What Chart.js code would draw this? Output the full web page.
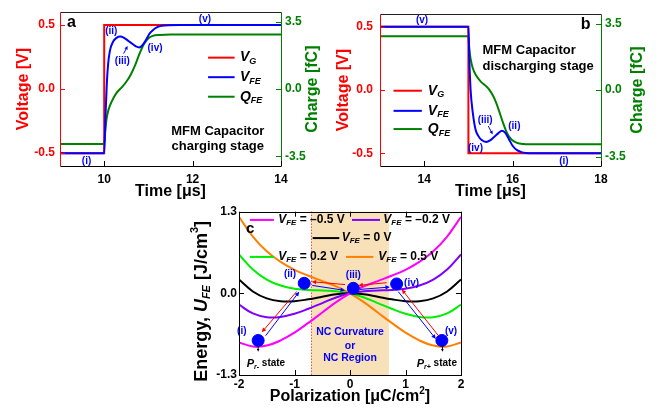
<!DOCTYPE html>
<html>
<head>
<meta charset="utf-8">
<script src="https://cdn.jsdelivr.net/npm/chart.js@4.4.1/dist/chart.umd.min.js"></script>
<style>
  body { margin: 0; background: #fff; width: 665px; height: 412px; position: relative; overflow: hidden; }
  canvas { position: absolute; }
</style>
</head>
<body>
<canvas id="chartA" width="335" height="200" style="left:0;top:0"></canvas>
<canvas id="chartB" width="335" height="200" style="left:330px;top:0"></canvas>
<canvas id="chartC" width="330" height="217" style="left:150px;top:195px"></canvas>
<script>
// ---- panel a : charging stage (time in us, V in volts, Q in fC)
const tA_G = [9, 10, 10, 14];
const vA_G = [-0.5, -0.5, 0.5, 0.5];
const tA_FE = [9, 10, 10.03, 10.06, 10.09, 10.13, 10.2, 10.28, 10.36, 10.45, 10.55, 10.65, 10.72, 10.79, 10.86, 10.94, 11.02, 11.1, 11.2, 11.3, 11.45, 11.7, 14];
const vA_FE = [-0.5, -0.5, -0.2, 0.05, 0.2, 0.3, 0.37, 0.4, 0.41, 0.4, 0.375, 0.35, 0.333, 0.325, 0.34, 0.38, 0.43, 0.46, 0.483, 0.494, 0.499, 0.5, 0.5];
const tA_Q = [9, 10, 10.02, 10.05, 10.1, 10.18, 10.28, 10.4, 10.5, 10.6, 10.7, 10.8, 10.9, 11.0, 11.1, 11.25, 11.5, 14];
const qA_Q = [-2.86, -2.86, -2.3, -1.6, -1.05, -0.6, -0.2, 0.1, 0.38, 0.75, 1.25, 1.85, 2.35, 2.65, 2.77, 2.82, 2.84, 2.84];

// ---- panel b : discharging stage
const tB_G = [13, 15, 15, 18];
const vB_G = [0.5, 0.5, -0.5, -0.5];
const tB_FE = [13, 15, 15.02, 15.05, 15.1, 15.16, 15.22, 15.3, 15.4, 15.5, 15.6, 15.68, 15.76, 15.84, 15.92, 16.0, 16.1, 16.2, 16.3, 16.45, 18];
const vB_FE = [0.5, 0.5, 0.25, 0.0, -0.18, -0.31, -0.36, -0.395, -0.41, -0.395, -0.365, -0.34, -0.322, -0.34, -0.39, -0.44, -0.475, -0.49, -0.497, -0.5, -0.5];
const tB_Q = [13, 15, 15.02, 15.05, 15.1, 15.18, 15.28, 15.38, 15.48, 15.58, 15.68, 15.78, 15.88, 15.98, 16.1, 16.25, 16.5, 18];
const qB_Q = [2.84, 2.84, 2.2, 1.65, 1.15, 0.75, 0.45, 0.25, 0.0, -0.4, -1.0, -1.7, -2.3, -2.62, -2.78, -2.84, -2.86, -2.86];

const voltTicks = [-0.5, 0, 0.5];
const chargeTicks = [-3.5, 0, 3.5];
const timeTicksA = [10, 12, 14];
const timeTicksB = [14, 16, 18];
const stages = ['(i)', '(ii)', '(iii)', '(iv)', '(v)'];

// ---- panel c : energy landscape, P in uC/cm2, U in J/cm3
const P = [-2, -1.75, -1.5, -1.25, -1, -0.75, -0.5, -0.25, 0, 0.25, 0.5, 0.75, 1, 1.25, 1.5, 1.75, 2];
const U_m05 = [-0.78, -0.845, -0.83, -0.75, -0.625, -0.47, -0.305, -0.14, 0, 0.11, 0.195, 0.28, 0.375, 0.5, 0.67, 0.905, 1.22];
const U_m02 = [-0.18, -0.32, -0.38, -0.375, -0.325, -0.245, -0.155, -0.065, 0, 0.035, 0.045, 0.055, 0.075, 0.125, 0.22, 0.38, 0.62];
const U_0 = [0.22, 0.03, -0.08, -0.125, -0.125, -0.095, -0.055, -0.015, 0, -0.015, -0.055, -0.095, -0.125, -0.125, -0.08, 0.03, 0.22];
const U_p02 = [0.62, 0.38, 0.22, 0.125, 0.075, 0.055, 0.045, 0.035, 0, -0.065, -0.155, -0.245, -0.325, -0.375, -0.38, -0.32, -0.18];
const U_p05 = [1.22, 0.905, 0.67, 0.5, 0.375, 0.28, 0.195, 0.11, 0, -0.14, -0.305, -0.47, -0.625, -0.75, -0.83, -0.845, -0.78];
const vfeLabels = ['\u20130.5', '\u20130.2', '0', '0.2', '0.5'];
const ballP = [-1.655, -0.825, 0.06, 0.84, 1.655];
const ballU = [-0.75, 0.16, 0.08, 0.15, -0.75];
const energyTicks = [-1.3, 0, 1.3];
const polTicks = [-2, -1, 0, 1, 2];

const FONT = "'Liberation Sans', Arial, Helvetica, sans-serif";
const RED = '#ff0000', BLUE = '#0000ff', GREEN = '#008000';

const zip = (xs, ys) => xs.map((x, i) => ({ x: x, y: ys[i] }));
const fnt = (size, italic) => (italic ? 'italic ' : '') + 'bold ' + size + 'px ' + FONT;
const crisp = v => Math.round(v) + 0.5;

// draw a run of text pieces: [text, size, italic, dy]
function rich(ctx, x, y, parts, align) {
    let w = 0;
    const ws = parts.map(p => { ctx.font = fnt(p[1], p[2]); const m = ctx.measureText(p[0]).width; w += m; return m; });
    let cx = align === 'center' ? x - w / 2 : (align === 'right' ? x - w : x);
    ctx.textAlign = 'left';
    parts.forEach((p, i) => {
        ctx.font = fnt(p[1], p[2]);
        ctx.fillText(p[0], cx, y + (p[3] || 0));
        cx += ws[i];
    });
}

function vRich(ctx, x, y, parts, color) {
    ctx.save();
    ctx.translate(x, y);
    ctx.rotate(-Math.PI / 2);
    ctx.fillStyle = color;
    ctx.textBaseline = 'middle';
    rich(ctx, 0, 0, parts, 'center');
    ctx.restore();
}

function seg(ctx, x1, y1, x2, y2, color, w) {
    ctx.strokeStyle = color;
    ctx.lineWidth = w || 1;
    ctx.beginPath();
    ctx.moveTo(x1, y1);
    ctx.lineTo(x2, y2);
    ctx.stroke();
}

function arrow(ctx, x1, y1, x2, y2, color, head) {
    const a = Math.atan2(y2 - y1, x2 - x1);
    seg(ctx, x1, y1, x2 - Math.cos(a) * head * 0.7, y2 - Math.sin(a) * head * 0.7, color, 1);
    ctx.fillStyle = color;
    ctx.beginPath();
    ctx.moveTo(x2, y2);
    ctx.lineTo(x2 - head * Math.cos(a - 0.45), y2 - head * Math.sin(a - 0.45));
    ctx.lineTo(x2 - head * Math.cos(a + 0.45), y2 - head * Math.sin(a + 0.45));
    ctx.closePath();
    ctx.fill();
}

// inward tick marks
function ticksIn(ctx, scale, side, ca, color) {
    ctx.strokeStyle = color;
    ctx.lineWidth = 1;
    scale.ticks.forEach((t, i) => {
        const p = crisp(scale.getPixelForTick(i));
        ctx.beginPath();
        if (side === 'bottom') { ctx.moveTo(p, ca.bottom); ctx.lineTo(p, ca.bottom - 5); }
        if (side === 'top') { ctx.moveTo(p, ca.top); ctx.lineTo(p, ca.top + 5); }
        if (side === 'left') { ctx.moveTo(ca.left, p); ctx.lineTo(ca.left + 5, p); }
        if (side === 'right') { ctx.moveTo(ca.right, p); ctx.lineTo(ca.right - 5, p); }
        ctx.stroke();
    });
}

function timeChart(id, d) {
    const deco = {
        id: 'deco',
        afterDraw(chart) {
            const { ctx, chartArea: ca, scales } = chart;
            const X = v => scales.x.getPixelForValue(v);
            const Y = v => scales.y.getPixelForValue(v);
            const L = crisp(ca.left), R = crisp(ca.right), T = crisp(ca.top), B = crisp(ca.bottom);
            ctx.save();
            seg(ctx, L, T, R, T, '#222');
            seg(ctx, L, B, R, B, '#000');
            seg(ctx, L, T, L, B, RED);
            seg(ctx, R, T, R, B, GREEN);
            ticksIn(ctx, scales.x, 'bottom', ca, '#000');
            ticksIn(ctx, scales.y, 'left', ca, RED);
            ticksIn(ctx, scales.y2, 'right', ca, GREEN);

            const midY = (ca.top + ca.bottom) / 2;
            vRich(ctx, ca.left + d.titleL, midY, [['Voltage [V]', 16]], RED);
            vRich(ctx, ca.right + d.titleR, midY, [['Charge [fC]', 16]], GREEN);

            // panel letter
            ctx.fillStyle = '#000';
            ctx.textBaseline = 'middle';
            ctx.textAlign = 'center';
            ctx.font = fnt(16);
            ctx.fillText(d.letter, X(d.letterPos[0]), Y(d.letterPos[1]));

            // stage labels
            ctx.fillStyle = BLUE;
            ctx.font = fnt(10);
            d.lblT.forEach((t, i) => ctx.fillText(stages[i], X(t), Y(d.lblV[i])));
            arrow(ctx, X(d.arrow[0]), Y(d.arrow[1]), X(d.arrow[2]), Y(d.arrow[3]), BLUE, 4);

            // description
            ctx.fillStyle = '#000';
            ctx.font = fnt(13);
            ctx.textAlign = d.noteAlign;
            ctx.fillText('MFM Capacitor', X(d.noteT), Y(d.noteV[0]));
            ctx.fillText(d.noteText, X(d.noteT), Y(d.noteV[1]));

            // legend
            const items = [[RED, 'V', 'G'], [BLUE, 'V', 'FE'], [GREEN, 'Q', 'FE']];
            items.forEach((it, i) => {
                const yy = Y(d.legV[i]);
                seg(ctx, X(d.legT[0]), yy, X(d.legT[1]), yy, it[0], 2);
                ctx.fillStyle = '#000';
                rich(ctx, X(d.legT[2]), yy, [[it[1], 14, true], [it[2], 9, true, 4]], 'left');
            });
            ctx.restore();
        }
    };

    return new Chart(document.getElementById(id), {
        type: 'line',
        data: {
            datasets: [
                { data: zip(d.tFE, d.vFE), borderColor: BLUE, yAxisID: 'y', cubicInterpolationMode: 'monotone', order: 0 },
                { data: zip(d.tG, d.vG), borderColor: RED, yAxisID: 'y', tension: 0, order: 1 },
                { data: zip(d.tQ, d.qQ), borderColor: GREEN, yAxisID: 'y2', cubicInterpolationMode: 'monotone', order: 2 }
            ]
        },
        options: {
            responsive: false,
            animation: false,
            layout: { padding: { top: 5, left: 0, right: 0, bottom: 0 } },
            elements: { point: { radius: 0 }, line: { borderWidth: 2 } },
            plugins: { legend: { display: false }, tooltip: { enabled: false } },
            scales: {
                x: {
                    type: 'linear', min: d.xMin, max: d.xMax,
                    afterBuildTicks: s => { s.ticks = d.xTicks.map(v => ({ value: v })); },
                    afterFit: s => { s.height = 34; },
                    grid: { drawOnChartArea: false, drawTicks: false },
                    border: { display: false },
                    ticks: { color: '#000', font: { size: 12, weight: 'bold' }, padding: 6, maxRotation: 0, autoSkip: false, callback: v => String(v) },
                    title: { display: true, text: 'Time [\u03bcs]', color: '#000', font: { size: 16, weight: 'bold', lineHeight: 1 }, padding: 0 }
                },
                y: {
                    position: 'left', min: -0.6, max: 0.6,
                    afterBuildTicks: s => { s.ticks = voltTicks.map(v => ({ value: v })); },
                    afterFit: s => { s.width = d.leftW; },
                    grid: { drawOnChartArea: false, drawTicks: false },
                    border: { display: false },
                    ticks: { color: RED, font: { size: 12, weight: 'bold' }, padding: d.leftPad, callback: v => v.toFixed(1) }
                },
                y2: {
                    position: 'right', min: -4, max: 4,
                    afterBuildTicks: s => { s.ticks = chargeTicks.map(v => ({ value: v })); },
                    afterFit: s => { s.width = d.rightW; },
                    grid: { drawOnChartArea: false, drawTicks: false },
                    border: { display: false },
                    ticks: { color: GREEN, font: { size: 12, weight: 'bold' }, padding: 4, callback: v => v.toFixed(1) }
                }
            }
        },
        plugins: [deco]
    });
}

Chart.defaults.font.family = FONT;
Chart.defaults.font.weight = 'bold';

timeChart('chartA', {
    tG: tA_G, vG: vA_G, tFE: tA_FE, vFE: vA_FE, tQ: tA_Q, qQ: qA_Q,
    xMin: 9, xMax: 14, xTicks: timeTicksA,
    leftW: 60, rightW: 54, leftPad: 5, titleL: -36, titleR: 31.5,
    letter: 'a', letterPos: [9.26, 0.516],
    lblT: [9.60, 10.16, 10.41, 11.15, 12.28], lblV: [-0.563, 0.454, 0.22, 0.317, 0.548],
    arrow: [10.44, 0.277, 10.53, 0.337],
    noteText: 'charging stage', noteAlign: 'center', noteT: 12.57, noteV: [-0.327, -0.449],
    legT: [12.35, 12.95, 13.07], legV: [0.2455, 0.093, -0.0595]
});

timeChart('chartB', {
    tG: tB_G, vG: vB_G, tFE: tB_FE, vFE: vB_FE, tQ: tB_Q, qQ: qB_Q,
    xMin: 13, xMax: 18, xTicks: timeTicksB,
    leftW: 50, rightW: 64, leftPad: 7, titleL: -36, titleR: 36.6,
    letter: 'b', letterPos: [17.65, 0.516],
    lblT: [17.16, 16.04, 15.38, 15.16, 13.95], lblV: [-0.561, -0.288, -0.238, -0.457, 0.553],
    arrow: [15.45, -0.284, 15.55, -0.351],
    noteText: 'discharging stage', noteAlign: 'left', noteT: 15.32, noteV: [0.3125, 0.188],
    legT: [13.306, 13.947, 14.083], legV: [-0.005, -0.164, -0.308]
});

// ---- panel c
const curveColors = ['#ff00ff', '#8000ff', '#000000', '#00ee00', '#ff8000'];
const curves = [U_m05, U_m02, U_0, U_p02, U_p05];
const redArrows = [[-0.96, 0.03, -1.59, -0.62], [-0.09, 0.14, -0.69, 0.185], [0.66, 0.17, 0.15, 0.126], [1.594, -0.675, 0.933, 0.063]];
const blueArrows = [[-1.52, -0.675, -0.915, 0.027], [-0.68, 0.126, -0.09, 0.047], [0.18, 0.063, 0.72, 0.10], [0.87, 0.027, 1.547, -0.727]];
const stageP = [-1.95, -1.08, 0.06, 1.11, 1.82];
const stageU = [-0.605, 0.30, 0.29, 0.163, -0.605];
// legend rows: [lineStart, lineEnd, textStart, U]
const legC = [[-1.804, -1.371, -1.294, 1.169], [0.036, 0.541, 0.601, 1.169], [-0.673, -0.193, -0.15, 0.88], [-1.804, -1.371, -1.294, 0.58], [-0.072, 0.42, 0.511, 0.58]];

const decoC = {
    id: 'decoC',
    beforeDatasetsDraw(chart) {
        const { ctx, chartArea: ca, scales: { x } } = chart;
        const x1 = x.getPixelForValue(-0.7), x2 = x.getPixelForValue(0.7);
        ctx.save();
        ctx.fillStyle = '#f8e0b8';
        ctx.fillRect(x1, ca.top, x2 - x1, ca.bottom - ca.top);
        ctx.setLineDash([1, 2]);
        seg(ctx, crisp(x1), ca.top, crisp(x1), ca.bottom, RED);
        ctx.restore();
    },
    afterDatasetsDraw(chart) {
        const { ctx, scales: { x, y } } = chart;
        const X = v => x.getPixelForValue(v), Y = v => y.getPixelForValue(v);
        ctx.save();
        redArrows.forEach(a => arrow(ctx, X(a[0]), Y(a[1]), X(a[2]), Y(a[3]), RED, 5));
        blueArrows.forEach(a => arrow(ctx, X(a[0]), Y(a[1]), X(a[2]), Y(a[3]), BLUE, 5));
        arrow(ctx, X(-1.655), Y(-0.84), X(-1.655), Y(-0.93), '#000', 3);
        arrow(ctx, X(1.665), Y(-0.84), X(1.665), Y(-0.93), '#000', 3);

        ctx.textBaseline = 'middle';
        ctx.textAlign = 'center';
        ctx.fillStyle = BLUE;
        ctx.font = fnt(10);
        stageP.forEach((p, i) => ctx.fillText(stages[i], X(p), Y(stageU[i])));
        ctx.font = fnt(10.5);
        ctx.fillText('NC Curvature', X(0), Y(-0.62));
        ctx.fillText('or', X(0), Y(-0.833));
        ctx.fillText('NC Region', X(0), Y(-1.03));

        ctx.fillStyle = '#000';
        rich(ctx, X(-1.515), Y(-1.12), [['P', 11, true], ['r-', 7, true, 3], [' state', 10]], 'center');
        rich(ctx, X(1.564), Y(-1.12), [['P', 11, true], ['r+', 7, true, 3], [' state', 10]], 'center');

        legC.forEach((l, i) => {
            const yy = Y(l[3]);
            seg(ctx, X(l[0]), yy, X(l[1]), yy, curveColors[i], 2);
            ctx.fillStyle = '#000';
            rich(ctx, X(l[2]), yy, [['V', 12, true], ['FE', 8, true, 3], [' = ' + vfeLabels[i] + ' V', 12]], 'left');
        });
        ctx.textAlign = 'center';
        ctx.font = fnt(15);
        ctx.fillText('c', X(-1.8), Y(1.03));
        ctx.restore();
    },
    afterDraw(chart) {
        const { ctx, chartArea: ca, scales: { x, y } } = chart;
        const L = crisp(ca.left), R = crisp(ca.right), T = crisp(ca.top), B = crisp(ca.bottom);
        ctx.save();
        ctx.strokeStyle = '#000';
        ctx.lineWidth = 1;
        ctx.strokeRect(L, T, R - L, B - T);
        ticksIn(ctx, x, 'bottom', ca, '#000');
        ticksIn(ctx, x, 'top', ca, '#000');
        ticksIn(ctx, y, 'left', ca, '#000');
        ticksIn(ctx, y, 'right', ca, '#000');
        ctx.fillStyle = '#000';
        ctx.textBaseline = 'middle';
        rich(ctx, (ca.left + ca.right) / 2, ca.bottom + 22,
            [['Polarization [\u03bcC/cm', 16], ['2', 10, false, -6], [']', 16]], 'center');
        vRich(ctx, ca.left - 37, (ca.top + ca.bottom) / 2 + 8,
            [['Energy, ', 18], ['U', 18, true], ['FE', 11, true, 5], [' [J/cm', 18], ['3', 11, false, -7], [']', 18]], '#000');
        ctx.restore();
    }
};

const dsC = curves.map((u, i) => ({
    data: zip(P, u), borderColor: curveColors[i], borderWidth: 2, tension: 0.4, pointRadius: 0, order: i + 1
}));
dsC.push({
    data: zip(ballP, ballU), showLine: false, pointRadius: 6, pointBackgroundColor: BLUE, pointBorderColor: BLUE, order: 0
});

new Chart(document.getElementById('chartC'), {
    type: 'line',
    data: { datasets: dsC },
    options: {
        responsive: false,
        animation: false,
        layout: { padding: { top: 16.7, right: 19, left: 0, bottom: 0 } },
        plugins: { legend: { display: false }, tooltip: { enabled: false } },
        scales: {
            x: {
                type: 'linear', min: -2, max: 2,
                afterBuildTicks: s => { s.ticks = polTicks.map(v => ({ value: v })); },
                afterFit: s => { s.height = 37; },
                grid: { drawOnChartArea: false, drawTicks: false },
                border: { display: false },
                ticks: { color: '#000', font: { size: 12, weight: 'bold' }, padding: 2, maxRotation: 0, autoSkip: false, callback: v => String(v) }
            },
            y: {
                min: -1.3, max: 1.3,
                afterBuildTicks: s => { s.ticks = energyTicks.map(v => ({ value: v })); },
                afterFit: s => { s.width = 89; },
                grid: { drawOnChartArea: false, drawTicks: false },
                border: { display: false },
                ticks: { color: '#000', font: { size: 12, weight: 'bold' }, padding: 2, callback: v => v.toFixed(1) }
            }
        }
    },
    plugins: [decoC]
});
</script>
</body>
</html>
